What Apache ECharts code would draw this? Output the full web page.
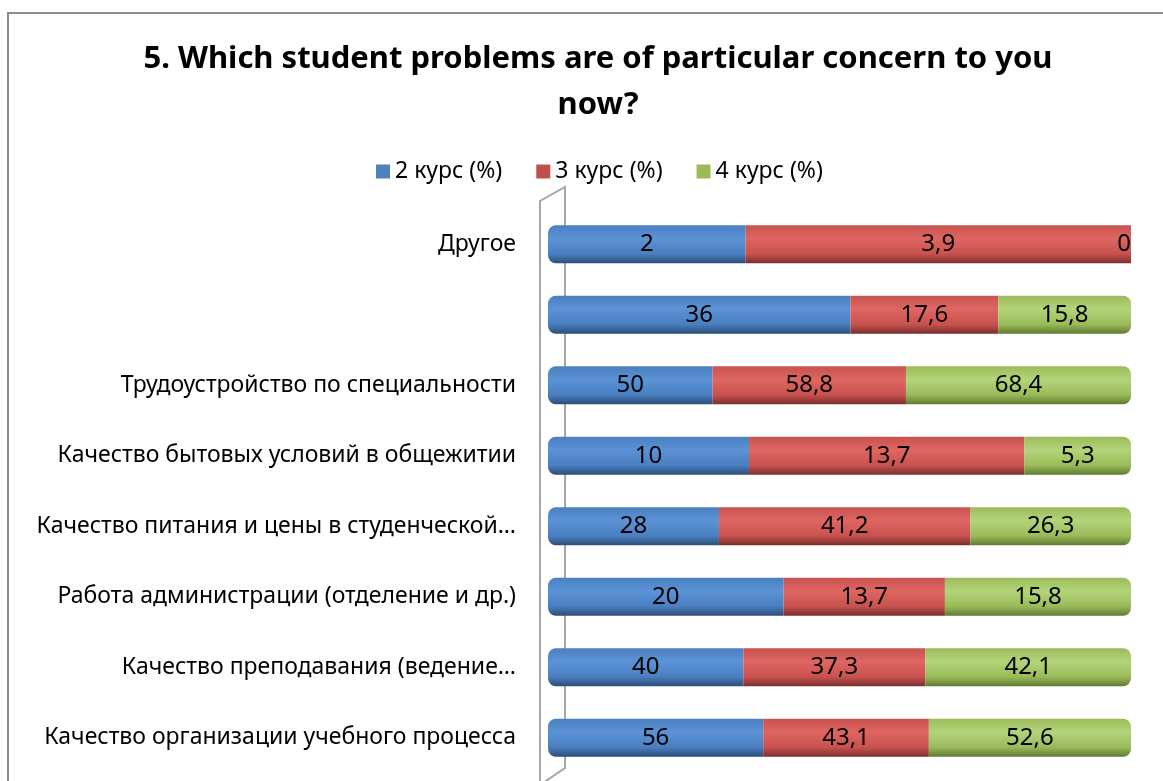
<!DOCTYPE html>
<html><head><meta charset="utf-8">
<script src="https://cdn.jsdelivr.net/npm/echarts@6/dist/echarts.min.js"></script>
<style>html,body{margin:0;padding:0;background:#fff}#c{width:1163px;height:781px}</style>
</head><body><div id="c"></div>
<script>
const categories = [
  'Качество организации учебного процесса',
  'Качество преподавания (ведение…',
  'Работа администрации (отделение и др.)',
  'Качество питания и цены в студенческой…',
  'Качество бытовых условий в общежитии',
  'Трудоустройство по специальности',
  '',
  'Другое'
];
const seriesNames = ['2 курс (%)', '3 курс (%)', '4 курс (%)'];
const course2 = [56, 40, 20, 28, 10, 50, 36, 2];
const course3 = [43.1, 37.3, 13.7, 41.2, 13.7, 58.8, 17.6, 3.9];
const course4 = [52.6, 42.1, 15.8, 26.3, 5.3, 68.4, 15.8, 0];

const raw = [course2, course3, course4];
const totals = categories.map((_, i) => raw.reduce((s, a) => s + a[i], 0));
const FONT = 'Noto Sans';

function grad(light, mid, dark) {
  return new echarts.graphic.LinearGradient(0, 0, 0, 1, [
    {offset: 0, color: mid}, {offset: 0.35, color: light}, {offset: 0.75, color: mid}, {offset: 1, color: dark}
  ]);
}
const colors = [
  grad('#5b93d6', '#4a7fc0', '#2c4d78'),
  grad('#df6662', '#c8524f', '#7a2f2d'),
  grad('#b3d47a', '#9bbb59', '#5f7a32')
];
const legendColors = ['#4f81bd', '#c0504d', '#9bbb59'];
const radii = [[8, 0, 0, 8], [0, 0, 0, 0], [0, 8, 8, 0]];

const chart = echarts.init(document.getElementById('c'));
const series = raw.map((arr, s) => ({
  name: seriesNames[s],
  type: 'bar',
  stack: 'total',
  barWidth: 38,
  data: arr.map((v, i) => ({
    value: v / totals[i] * 100, raw: v,
    label: v === 0 ? {position: 'insideRight', distance: 0} : undefined
  })),
  itemStyle: {color: colors[s], borderRadius: radii[s]},
  label: {
    show: true, position: 'inside', color: '#000', fontFamily: FONT, fontSize: 24,
    formatter: p => String(p.data.raw).replace('.', ',')
  }
}));

const frame = {type: 'rect', shape: {x: 8, y: 13, width: 1200, height: 800}, style: {fill: 'none', stroke: '#8c8c8c', lineWidth: 2}, silent: true};

chart.setOption({
  animation: false,
  color: legendColors,
  title: {
    text: '5. Which student problems are of particular concern to you\nnow?',
    left: 593, top: 31, textAlign: 'center',
    textStyle: {fontFamily: FONT, fontWeight: 'bold', fontSize: 31, lineHeight: 46, color: '#000'}
  },
  legend: {
    top: 155, left: 371, itemWidth: 14, itemHeight: 14, itemGap: 34, icon: 'rect',
    textStyle: {fontFamily: FONT, fontSize: 23, color: '#000'},
    data: seriesNames.map((n, i) => ({name: n, itemStyle: {color: legendColors[i]}}))
  },
  grid: {left: 548, right: 32, top: 209, bottom: 8},
  xAxis: {type: 'value', min: 0, max: 100, show: false},
  yAxis: {
    type: 'category', data: categories,
    axisLine: {show: false}, axisTick: {show: false},
    axisLabel: {fontFamily: FONT, fontSize: 23, color: '#000', margin: 32}
  },
  graphic: [frame],
  series: series
});

// side wall of the 3D plot area
const g = chart.getModel().getComponent('grid').coordinateSystem.getRect();
chart.setOption({graphic: [
  frame,
  {type: 'polyline', shape: {points: [
    [g.x - 8, g.y + g.height + 12], [g.x - 8, g.y - 8], [g.x + 17, g.y - 22], [g.x + 17, g.y + g.height - 5], [g.x - 8, g.y + g.height + 12]
  ]}, style: {fill: 'none', stroke: '#a6a6a6', lineWidth: 2}, silent: true, z: -1}
]});
</script></body></html>
